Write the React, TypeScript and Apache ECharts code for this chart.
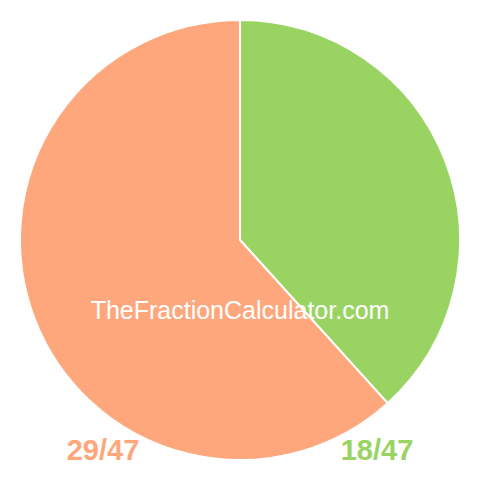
import React, { useEffect, useRef } from "react";
import * as echarts from "echarts";

const categories = ["18/47", "29/47"];
const values = [18, 29];
const colors = ["#99d462", "#ffa77c"];
const watermark = "TheFractionCalculator.com";

export default function App() {
  const ref = useRef<HTMLDivElement>(null);
  useEffect(() => {
    document.body.style.margin = "0";
    const chart = echarts.init(ref.current!, null, { renderer: "svg" });
    chart.setOption({
      animation: false,
      backgroundColor: "#ffffff",
      series: [
        {
          type: "pie",
          center: [240, 240],
          radius: [0, 220],
          startAngle: 90,
          clockwise: true,
          label: { show: false },
          labelLine: { show: false },
          emphasis: { disabled: true },
          itemStyle: { borderColor: "#ffffff", borderWidth: 2 },
          data: categories.map((c, i) => ({
            name: c,
            value: values[i],
            itemStyle: { color: colors[i] },
          })),
        },
      ],
      graphic: [
        {
          type: "text",
          x: 240,
          y: 310,
          z: 100,
          style: {
            text: watermark,
            fill: "#ffffff",
            font: "25px 'Liberation Sans', Arial, sans-serif",
            align: "center",
            verticalAlign: "middle",
          },
        },
        {
          type: "text",
          x: 103,
          y: 450,
          z: 100,
          style: {
            text: categories[1],
            fill: colors[1],
            font: "bold 29px 'Liberation Sans', Arial, sans-serif",
            align: "center",
            verticalAlign: "middle",
          },
        },
        {
          type: "text",
          x: 377,
          y: 450,
          z: 100,
          style: {
            text: categories[0],
            fill: colors[0],
            font: "bold 29px 'Liberation Sans', Arial, sans-serif",
            align: "center",
            verticalAlign: "middle",
          },
        },
      ],
    });
    return () => chart.dispose();
  }, []);
  return <div ref={ref} style={{ width: 480, height: 480 }} />;
}
